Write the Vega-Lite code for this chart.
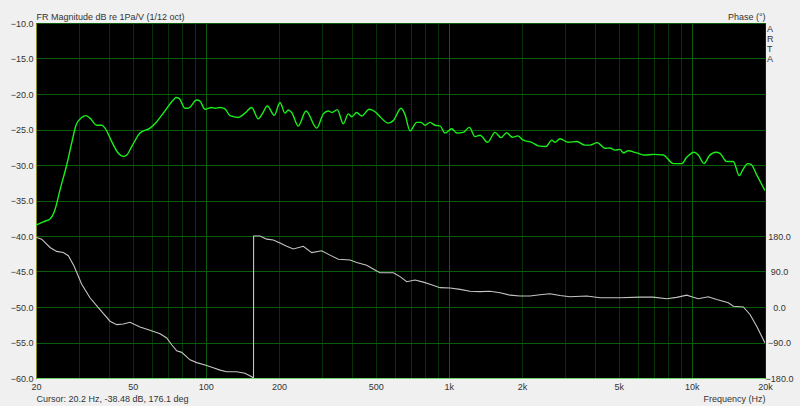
{
  "$schema": "https://vega.github.io/schema/vega-lite/v6.json",
  "width": 729,
  "height": 355,
  "autosize": {"type": "none"},
  "padding": {"left": 36, "top": 23, "right": 35, "bottom": 28},
  "background": "#f0f0f0",
  "config": {
    "view": {"fill": "#000000", "stroke": "#0f6a0f", "strokeWidth": 1},
    "font": "Liberation Sans",
    "axis": {
      "labelFont": "Liberation Sans",
      "titleFont": "Liberation Sans",
      "labelFontSize": 9,
      "titleFontSize": 9,
      "titleFontWeight": "normal",
      "labelColor": "#333333",
      "titleColor": "#333333",
      "ticks": false,
      "labelFlush": false,
      "labelOverlap": false
    }
  },
  "title": {
    "text": ["A", "R", "T", "A"],
    "orient": "top",
    "anchor": "end",
    "frame": "group",
    "align": "left",
    "baseline": "top",
    "dx": 2,
    "dy": 56,
    "font": "Liberation Sans",
    "fontSize": 9,
    "fontWeight": "normal",
    "color": "#333333",
    "lineHeight": 10
  },
  "datasets": {
    "mag": [
      {"freq": 20.0, "db": -38.45}, {"freq": 21.43, "db": -38.0}, {"freq": 22.84, "db": -37.6}, {"freq": 23.94, "db": -36.3},
      {"freq": 25.11, "db": -33.5}, {"freq": 26.75, "db": -30.0}, {"freq": 28.05, "db": -26.9}, {"freq": 29.22, "db": -24.4},
      {"freq": 30.84, "db": -23.3}, {"freq": 32.12, "db": -23.05}, {"freq": 33.36, "db": -23.4}, {"freq": 35.55, "db": -24.4},
      {"freq": 37.27, "db": -24.4}, {"freq": 38.46, "db": -24.8}, {"freq": 40.97, "db": -26.7}, {"freq": 43.63, "db": -28.35},
      {"freq": 45.75, "db": -28.8}, {"freq": 47.25, "db": -28.6}, {"freq": 49.54, "db": -27.4}, {"freq": 53.58, "db": -25.5},
      {"freq": 58.9, "db": -24.8}, {"freq": 62.79, "db": -23.9}, {"freq": 66.83, "db": -22.7}, {"freq": 73.46, "db": -20.85},
      {"freq": 75.36, "db": -20.5}, {"freq": 77.54, "db": -20.6}, {"freq": 82.07, "db": -22.0}, {"freq": 84.68, "db": -22.0},
      {"freq": 91.7, "db": -20.85}, {"freq": 94.61, "db": -21.0}, {"freq": 99.19, "db": -22.15}, {"freq": 105.7, "db": -21.9},
      {"freq": 109.1, "db": -22.0}, {"freq": 114.4, "db": -21.9}, {"freq": 119.9, "db": -22.1}, {"freq": 125.7, "db": -23.05},
      {"freq": 136.0, "db": -23.3}, {"freq": 144.9, "db": -22.7}, {"freq": 154.4, "db": -21.9}, {"freq": 164.4, "db": -23.5},
      {"freq": 170.7, "db": -22.8}, {"freq": 179.0, "db": -21.7}, {"freq": 191.3, "db": -23.0}, {"freq": 201.9, "db": -21.2},
      {"freq": 211.7, "db": -22.7}, {"freq": 218.4, "db": -22.25}, {"freq": 225.6, "db": -22.6}, {"freq": 240.1, "db": -24.5},
      {"freq": 258.3, "db": -22.4}, {"freq": 285.9, "db": -24.8}, {"freq": 304.4, "db": -22.8}, {"freq": 319.1, "db": -22.4},
      {"freq": 330.5, "db": -22.6}, {"freq": 347.5, "db": -22.2}, {"freq": 367.9, "db": -24.2}, {"freq": 385.7, "db": -22.8},
      {"freq": 398.3, "db": -23.2}, {"freq": 417.6, "db": -22.6}, {"freq": 437.9, "db": -23.1}, {"freq": 470.5, "db": -22.15},
      {"freq": 496.7, "db": -22.5}, {"freq": 520.8, "db": -23.2}, {"freq": 563.4, "db": -24.1}, {"freq": 590.7, "db": -23.75},
      {"freq": 635.6, "db": -22.0}, {"freq": 660.1, "db": -22.9}, {"freq": 692.2, "db": -25.2}, {"freq": 737.5, "db": -24.0},
      {"freq": 768.1, "db": -24.0}, {"freq": 797.8, "db": -24.4}, {"freq": 836.5, "db": -24.0}, {"freq": 877.1, "db": -24.4},
      {"freq": 919.7, "db": -24.5}, {"freq": 964.4, "db": -25.5}, {"freq": 1027.6, "db": -24.9}, {"freq": 1077.4, "db": -25.5},
      {"freq": 1146.9, "db": -25.4}, {"freq": 1214, "db": -24.7}, {"freq": 1281.3, "db": -26.0}, {"freq": 1343.4, "db": -25.8},
      {"freq": 1445.1, "db": -26.8}, {"freq": 1548.5, "db": -25.4}, {"freq": 1639.1, "db": -26.15}, {"freq": 1730.1, "db": -25.45},
      {"freq": 1824.4, "db": -26.1}, {"freq": 1920.2, "db": -25.9}, {"freq": 2024.8, "db": -26.5}, {"freq": 2192.2, "db": -26.8},
      {"freq": 2334.6, "db": -27.3}, {"freq": 2510.6, "db": -27.4}, {"freq": 2650, "db": -26.5}, {"freq": 2734.2, "db": -26.8},
      {"freq": 2866.8, "db": -26.3}, {"freq": 3101.2, "db": -26.8}, {"freq": 3359.2, "db": -26.7}, {"freq": 3633.6, "db": -27.2},
      {"freq": 3809.6, "db": -27.2}, {"freq": 4082.8, "db": -26.85}, {"freq": 4391.6, "db": -27.65}, {"freq": 4604.4, "db": -27.6},
      {"freq": 4827.6, "db": -27.9}, {"freq": 5061.6, "db": -27.8}, {"freq": 5222.4, "db": -28.3}, {"freq": 5475.6, "db": -28.0},
      {"freq": 5930.6, "db": -28.3}, {"freq": 6415.4, "db": -28.6}, {"freq": 6940, "db": -28.5}, {"freq": 7630, "db": -28.6},
      {"freq": 8390, "db": -29.8}, {"freq": 9086, "db": -29.8}, {"freq": 9526, "db": -28.9}, {"freq": 10236, "db": -28.2},
      {"freq": 10630, "db": -28.6}, {"freq": 11220, "db": -29.8}, {"freq": 11798, "db": -28.7}, {"freq": 12570, "db": -28.2},
      {"freq": 13056, "db": -28.35}, {"freq": 13912, "db": -29.5}, {"freq": 14810, "db": -29.5}, {"freq": 15676, "db": -31.5},
      {"freq": 16190, "db": -30.7}, {"freq": 16976, "db": -29.8}, {"freq": 17516, "db": -29.9}, {"freq": 18488, "db": -31.4},
      {"freq": 20000, "db": -33.6}
    ],
    "phase": [
      {"freq": 20.0, "phase": 177}, {"freq": 21.11, "phase": 172}, {"freq": 22.84, "phase": 151}, {"freq": 24.33, "phase": 141},
      {"freq": 25.91, "phase": 138}, {"freq": 27.17, "phase": 130}, {"freq": 28.67, "phase": 104}, {"freq": 30.84, "phase": 57.5},
      {"freq": 33.36, "phase": 23.5}, {"freq": 36.68, "phase": -6.4}, {"freq": 40.32, "phase": -36}, {"freq": 42.98, "phase": -44.7},
      {"freq": 45.75, "phase": -43}, {"freq": 48.74, "phase": -38.8}, {"freq": 53.58, "phase": -50.6}, {"freq": 58.9, "phase": -59},
      {"freq": 64.77, "phase": -67.6}, {"freq": 69.02, "phase": -78.6}, {"freq": 72.36, "phase": -95.7}, {"freq": 75.86, "phase": -111},
      {"freq": 79.54, "phase": -115}, {"freq": 86.06, "phase": -134}, {"freq": 91.7, "phase": -141}, {"freq": 99.19, "phase": -147},
      {"freq": 107.3, "phase": -154}, {"freq": 114.4, "phase": -160}, {"freq": 121.8, "phase": -164}, {"freq": 133.9, "phase": -164},
      {"freq": 144.9, "phase": -168}, {"freq": 154.4, "phase": -177}, {"freq": 157.1, "phase": -180}, {"freq": 157.2, "phase": 180},
      {"freq": 167.0, "phase": 180}, {"freq": 178.0, "phase": 172}, {"freq": 189.5, "phase": 170}, {"freq": 201.9, "phase": 162},
      {"freq": 215.1, "phase": 154}, {"freq": 229.0, "phase": 147}, {"freq": 251.8, "phase": 154}, {"freq": 272.7, "phase": 138},
      {"freq": 299.8, "phase": 142.5}, {"freq": 324.3, "phase": 131.5}, {"freq": 350.8, "phase": 121}, {"freq": 392.0, "phase": 119},
      {"freq": 417.6, "phase": 113}, {"freq": 459.1, "phase": 106}, {"freq": 496.7, "phase": 94}, {"freq": 520.8, "phase": 87},
      {"freq": 590.7, "phase": 87}, {"freq": 629.6, "phase": 77}, {"freq": 670.9, "phase": 64}, {"freq": 725.7, "phase": 68.4},
      {"freq": 785.1, "phase": 63}, {"freq": 836.5, "phase": 57.5}, {"freq": 919.7, "phase": 49}, {"freq": 1011.2, "phase": 48},
      {"freq": 1111.8, "phase": 44.7}, {"freq": 1222.1, "phase": 40}, {"freq": 1343.4, "phase": 39}, {"freq": 1476.9, "phase": 40},
      {"freq": 1623.7, "phase": 36}, {"freq": 1785, "phase": 30}, {"freq": 1962.3, "phase": 28}, {"freq": 2157, "phase": 28},
      {"freq": 2371.6, "phase": 31}, {"freq": 2607, "phase": 33.6}, {"freq": 2866.8, "phase": 29}, {"freq": 3151.6, "phase": 26},
      {"freq": 3692.6, "phase": 28}, {"freq": 4188.6, "phase": 23.5}, {"freq": 5061.6, "phase": 23.5}, {"freq": 6119, "phase": 25},
      {"freq": 6940, "phase": 25}, {"freq": 7880, "phase": 21}, {"freq": 8664, "phase": 24.4}, {"freq": 9526, "phase": 30},
      {"freq": 9987, "phase": 26}, {"freq": 10630, "phase": 21}, {"freq": 11687, "phase": 26}, {"freq": 12653, "phase": 19},
      {"freq": 14125, "phase": 10.7}, {"freq": 14810, "phase": 2}, {"freq": 16283, "phase": 0}, {"freq": 17351, "phase": -19},
      {"freq": 18488, "phase": -49}, {"freq": 20000, "phase": -91}
    ]
  },
  "layer": [
    {
      "data": {"name": "mag"},
      "mark": {"type": "line", "color": "#19f019", "strokeWidth": 1.4, "interpolate": "monotone", "clip": true},
      "encoding": {
        "x": {
          "field": "freq", "type": "quantitative",
          "scale": {"type": "log", "domain": [20, 20000], "nice": false},
          "axis": {
            "orient": "bottom",
            "values": [20, 30, 40, 50, 60, 70, 80, 90, 100, 200, 300, 400, 500, 600, 700, 800, 900, 1000, 2000, 3000, 4000, 5000, 6000, 7000, 8000, 9000, 10000, 20000],
            "labelExpr": "indexof([20,50,100,200,500,1000,2000,5000,10000,20000], datum.value) >= 0 ? (datum.value >= 1000 ? (datum.value / 1000) + 'k' : datum.value + '') : ''",
            "labelPadding": 4,
            "grid": true,
            "gridColor": {"condition": {"test": "datum.value == 100 || datum.value == 1000 || datum.value == 10000", "value": "#0b5c0b"}, "value": "#063206"},
            "gridWidth": 1,
            "domain": true,
            "domainColor": "#6fd66f",
            "title": "Frequency (Hz)",
            "titleX": 729,
            "titleY": 23.5,
            "titleAlign": "right",
            "titleBaseline": "alphabetic",
            "titleAnchor": "end"
          }
        },
        "y": {
          "field": "db", "type": "quantitative",
          "scale": {"domain": [-60, -10], "nice": false, "zero": false},
          "axis": {
            "orient": "left",
            "values": [-60, -55, -50, -45, -40, -35, -30, -25, -20, -15, -10],
            "format": ".1f",
            "labelPadding": 3,
            "grid": true,
            "gridColor": "#0b5c0b",
            "domain": true,
            "domainColor": "#8c8c1e",
            "title": "FR Magnitude dB re 1Pa/V (1/12 oct)",
            "titleAngle": 0,
            "titleX": 0,
            "titleY": -4,
            "titleAlign": "left",
            "titleBaseline": "alphabetic"
          }
        }
      }
    },
    {
      "data": {"name": "phase"},
      "mark": {"type": "line", "color": "#c4c4c4", "strokeWidth": 1.1, "clip": true},
      "encoding": {
        "x": {
          "field": "freq", "type": "quantitative",
          "axis": {
            "orient": "bottom",
            "labels": false,
            "grid": false,
            "domain": false,
            "ticks": false,
            "title": "Cursor: 20.2 Hz, -38.48 dB, 176.1 deg",
            "titleX": 0,
            "titleY": 23.5,
            "titleAlign": "left",
            "titleBaseline": "alphabetic",
            "titleAnchor": "start"
          }
        },
        "y": {
          "field": "phase", "type": "quantitative",
          "scale": {"domain": [-180, 720], "nice": false, "zero": false},
          "axis": {
            "orient": "right",
            "values": [-180, -90, 0, 90, 180],
            "format": ".1f",
            "labelAlign": "center",
            "labelPadding": 14,
            "grid": false,
            "domain": false,
            "title": "Phase (°)",
            "titleAngle": 0,
            "titleX": 0,
            "titleY": -4,
            "titleAlign": "right",
            "titleBaseline": "alphabetic"
          }
        }
      }
    }
  ],
  "resolve": {"scale": {"y": "independent"}, "axis": {"x": "independent"}}
}
